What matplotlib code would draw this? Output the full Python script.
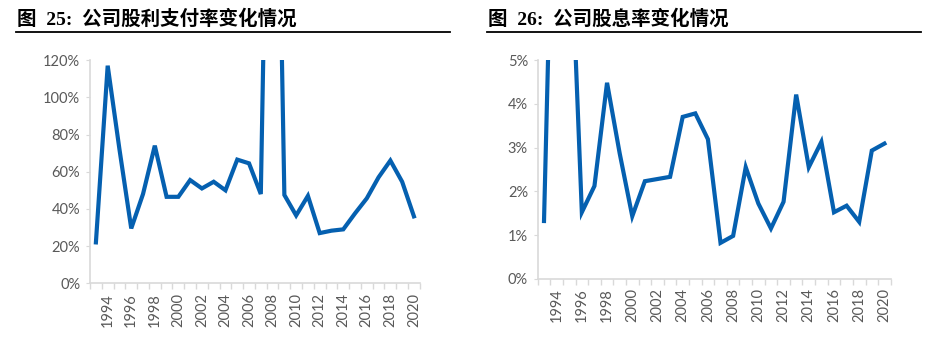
import matplotlib
matplotlib.use("Agg")
import matplotlib.pyplot as plt
from matplotlib.lines import Line2D
from matplotlib.ticker import FuncFormatter

# years 1993-2020
years = list(range(1993, 2021))

# dividend payout ratio (%), 2008 runs far off the top of the chart
payout = [22, 117, 72, 29.5, 48, 74, 46.5, 46.5, 55.5, 51, 54.6, 50, 66.5, 64.5,
          48, 400, 47.5, 36.5, 47, 27, 28.3, 29, 37.6, 45.7, 57, 66, 54.6, 36]

# dividend yield (%), 1994-1995 run off the top
div_yield = [1.32, 12.9, 8.8, 1.52, 2.12, 4.48, 2.87, 1.43, 2.23, 2.28, 2.33, 3.7,
             3.78, 3.19, 0.82, 0.98, 2.55, 1.72, 1.15, 1.76, 4.21, 2.55, 3.13,
             1.52, 1.67, 1.3, 2.93, 3.09]

titles = ["图  25:  公司股利支付率变化情况", "图  26:  公司股息率变化情况"]

line_color = "#0560b0"
spine_color = "#d9d9d9"
label_color = "#595959"

fig = plt.figure(figsize=(9.29, 3.45), dpi=100)


def draw(rect, values, ymax, ystep):
    ax = fig.add_axes(rect)
    x = list(range(len(years)))
    ax.plot(x, values, color=line_color, lw=3.0, solid_joinstyle="miter")
    ax.set_xlim(-0.5, len(years) - 0.5)
    ax.set_ylim(0, ymax)
    ax.set_yticks([i * ystep for i in range(int(round(ymax / ystep)) + 1)])
    ax.yaxis.set_major_formatter(FuncFormatter(lambda v, p: "%d%%" % round(v)))
    # labels on even years, tick marks on category edges
    ax.set_xticks([i for i, y in enumerate(years) if y % 2 == 0])
    ax.set_xticklabels([str(y) for y in years if y % 2 == 0], rotation=90)
    ax.set_xticks([i - 0.5 for i in range(len(years) + 1)], minor=True)
    ax.tick_params(axis="x", which="major", length=0, pad=7, labelsize=10.5,
                   labelcolor=label_color)
    ax.tick_params(axis="x", which="minor", length=4, color=spine_color, width=1)
    ax.tick_params(axis="y", length=3, color=spine_color, labelsize=10.5,
                   labelcolor=label_color, pad=4)
    for s in ["top", "right"]:
        ax.spines[s].set_visible(False)
    for s in ["left", "bottom"]:
        ax.spines[s].set_color(spine_color)
        ax.spines[s].set_linewidth(1.2)
    for lab in ax.get_xticklabels() + ax.get_yticklabels():
        lab.set_family("Lato")
    return ax


draw([0.0969, 0.1788, 0.355, 0.647], payout, 120, 20)
draw([0.5788, 0.192, 0.380, 0.634], div_yield, 5, 1)

# titles with rule underneath
for tx, (x0, x1) in zip(titles, [(16, 450), (487, 921)]):
    fig.text((x0 + 1) / 929, 1 - 25 / 345, tx, fontsize=14, fontweight="bold",
             family=["Liberation Serif", "Noto Sans CJK SC"], va="baseline")
    fig.add_artist(Line2D([x0 / 929, x1 / 929], [1 - 32 / 345, 1 - 32 / 345],
                          color="black", lw=1.3, transform=fig.transFigure))

plt.savefig("out.png", dpi=100)
